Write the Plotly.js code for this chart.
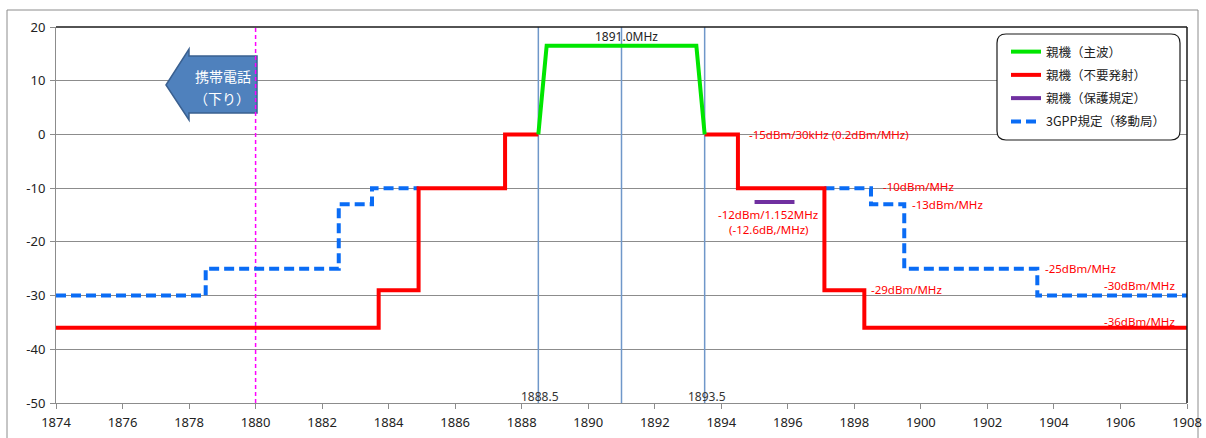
<!DOCTYPE html>
<html>
<head>
<meta charset="utf-8">
<script src="https://cdn.plot.ly/plotly-3.0.1.min.js"></script>
<style>
  html, body { margin: 0; padding: 0; background: #fff; }
  #chart { width: 1206px; height: 438px; }
</style>
</head>
<body>
<div id="chart"></div>
<script>
// ---------- data ----------
const seriesNames = ['親機（主波）', '親機（不要発射）', '親機（保護規定）', '3GPP規定（移動局）'];

// 親機(主波)
const mainX = [1888.5, 1888.75, 1893.25, 1893.5];
const mainY = [0, 16.5, 16.5, 0];

// 親機(不要発射)
const spurX = [1874, 1883.7, 1883.7, 1884.9, 1884.9, 1887.5, 1887.5, 1888.5, null,
               1893.5, 1894.5, 1894.5, 1897.1, 1897.1, 1898.3, 1898.3, 1908];
const spurY = [-36, -36, -29, -29, -10, -10, 0, 0, null,
               0, 0, -10, -10, -29, -29, -36, -36];

// 親機(保護規定)
const protX = [1895.0, 1896.2];
const protY = [-12.6, -12.6];

// 3GPP規定(移動局)
const gppX = [1874, 1878.5, 1878.5, 1882.5, 1882.5, 1883.5, 1883.5, 1884.9, null,
              1897.1, 1898.5, 1898.5, 1899.5, 1899.5, 1903.5, 1903.5, 1908];
const gppY = [-30, -30, -25, -25, -13, -13, -10, -10, null,
              -10, -10, -13, -13, -25, -25, -30, -30];

// reference frequencies
const bandLines = [1888.5, 1891.0, 1893.5];
const downlinkEdge = 1880;

const xTicks = [1874,1876,1878,1880,1882,1884,1886,1888,1890,1892,1894,1896,1898,1900,1902,1904,1906,1908];
const yTicks = [20, 10, 0, -10, -20, -30, -40, -50];
const yRange = [-50, 20];
const xRange = [1874, 1908];

// ---------- layout helpers ----------
const W = 1206, H = 438;
const M = {l: 56, r: 19, t: 27, b: 35};
const PW = W - M.l - M.r, PH = H - M.t - M.b;
const px = v => (v - M.l) / PW;          // pixel x -> paper x
const py = v => (H - M.b - v) / PH;      // pixel y -> paper y
const ax = v => xRange[0] + (v - M.l) / PW * (xRange[1] - xRange[0]);
const ay = v => yRange[1] - (v - M.t) / PH * (yRange[1] - yRange[0]);

// vertical band lines built from the frequency arrays
const vlX = [], vlY = [];
bandLines.forEach(f => { vlX.push(f, f, null); vlY.push(yRange[0], yRange[1], null); });

const traces = [
  {x: vlX, y: vlY, mode: 'lines', line: {color: '#6f97c9', width: 1.5},
   showlegend: false, hoverinfo: 'skip'},
  {x: [downlinkEdge, downlinkEdge], y: yRange, mode: 'lines',
   line: {color: '#ff00ff', width: 1.5, dash: '4px,3px'}, showlegend: false, hoverinfo: 'skip'},
  {x: gppX, y: gppY, name: seriesNames[3], mode: 'lines', legendrank: 4, legendgroup: 'd',
   line: {color: '#0a6cf5', width: 4, dash: '10px,5px'}},
  {x: spurX, y: spurY, name: seriesNames[1], mode: 'lines', legendrank: 2, legendgroup: 'b',
   line: {color: '#ff0000', width: 4}},
  {x: mainX, y: mainY, name: seriesNames[0], mode: 'lines', legendrank: 1, legendgroup: 'a',
   line: {color: '#00e600', width: 4}},
  {x: protX, y: protY, name: seriesNames[2], mode: 'lines', legendrank: 3, legendgroup: 'c',
   line: {color: '#7030a0', width: 4}}
];

const redFont = {family: 'Noto Sans, sans-serif', size: 11.5, color: '#ff0000'};
const ann = (text, x, y, xanchor, font) => ({
  text, x: px(x), y: py(y), xref: 'paper', yref: 'paper', xanchor, yanchor: 'middle',
  showarrow: false, font: font || redFont
});

const annotations = [
  ann('-15dBm/30kHz (0.2dBm/MHz)', 747, 134, 'left'),
  ann('-10dBm/MHz', 881, 187, 'left'),
  ann('-13dBm/MHz', 910, 204, 'left'),
  ann('-12dBm/1.152MHz', 768, 214, 'center'),
  ann('(-12.6dB,/MHz)', 769, 229, 'center'),
  ann('-25dBm/MHz', 1043, 268, 'left'),
  ann('-29dBm/MHz', 869, 289, 'left'),
  ann('-30dBm/MHz', 1177, 285, 'right'),
  ann('-36dBm/MHz', 1177, 321, 'right'),
  ann('1891.0MHz', 626, 37, 'center', {family: 'Noto Sans, sans-serif', size: 12, color: '#222'}),
  ann('1888.5', 540, 396, 'center', {family: 'Noto Sans, sans-serif', size: 12, color: '#333'}),
  ann('1893.5', 707, 396, 'center', {family: 'Noto Sans, sans-serif', size: 12, color: '#333'}),
  ann('携帯電話', 223, 76, 'center', {family: 'Noto Sans CJK JP, sans-serif', size: 14, color: '#ffffff'}),
  ann('（下り）', 222, 98, 'center', {family: 'Noto Sans CJK JP, sans-serif', size: 14, color: '#ffffff'})
];

// rounded legend box path (paper coords)
function roundRect(x0, y0, x1, y1, r) {
  const rx = r / PW, ry = r / PH;
  const X0 = px(x0), X1 = px(x1), Y0 = py(y0), Y1 = py(y1);
  return `M${X0 + rx},${Y0} L${X1 - rx},${Y0} Q${X1},${Y0} ${X1},${Y0 - ry} ` +
         `L${X1},${Y1 + ry} Q${X1},${Y1} ${X1 - rx},${Y1} L${X0 + rx},${Y1} ` +
         `Q${X0},${Y1} ${X0},${Y1 + ry} L${X0},${Y0 - ry} Q${X0},${Y0} ${X0 + rx},${Y0} Z`;
}

// arrow outline (pixels)
const arrowPts = [[166, 85], [189, 49], [189, 56], [257, 56], [257, 113], [189, 113], [189, 120]];

const shapes = [
  {type: 'rect', xref: 'paper', yref: 'paper', x0: px(7), x1: px(1198), y0: py(445), y1: py(10),
   line: {color: '#8c8c8c', width: 1}, fillcolor: 'rgba(0,0,0,0)', layer: 'below'},
  {type: 'line', xref: 'paper', yref: 'paper', x0: 0, x1: 1, y0: 1, y1: 1,
   line: {color: '#1a1a1a', width: 1.5}, layer: 'above'},
  {type: 'line', xref: 'paper', yref: 'paper', x0: 1, x1: 1, y0: 0, y1: 1,
   line: {color: '#1a1a1a', width: 1.5}, layer: 'above'},
  {type: 'path', xref: 'x', yref: 'y', layer: 'between',
   path: 'M' + arrowPts.map(p => `${ax(p[0])},${ay(p[1])}`).join(' L') + ' Z',
   fillcolor: '#4f81bd', line: {color: '#3a6090', width: 1.5}},
  {type: 'path', xref: 'paper', yref: 'paper', path: roundRect(997, 34, 1180, 140, 9),
   fillcolor: '#ffffff', line: {color: '#1a1a1a', width: 1.2}, layer: 'above'}
];

const layout = {
  width: W, height: H,
  margin: M,
  paper_bgcolor: '#ffffff', plot_bgcolor: 'rgba(0,0,0,0)',
  showlegend: true,
  legend: {
    x: px(1006), y: py(37), xanchor: 'left', yanchor: 'top',
    bgcolor: 'rgba(0,0,0,0)', borderwidth: 0,
    font: {family: 'Noto Sans CJK JP, sans-serif', size: 12.5, color: '#222'},
    traceorder: 'grouped', tracegroupgap: 4, itemwidth: 30
  },
  xaxis: {
    range: xRange, tickvals: xTicks, ticktext: xTicks.map(String),
    showgrid: false, zeroline: false, showline: true, linecolor: '#8c8c8c', linewidth: 1,
    ticks: 'outside', ticklen: 5, tickcolor: '#8c8c8c',
    tickfont: {family: 'Noto Sans, sans-serif', size: 13, color: '#222'}, ticklabelstandoff: 2
  },
  yaxis: {
    range: yRange, tickvals: yTicks, ticktext: yTicks.map(String),
    showgrid: true, gridcolor: '#8c8c8c', gridwidth: 1, zeroline: false,
    showline: true, linecolor: '#8c8c8c', linewidth: 1,
    ticks: 'outside', ticklen: 5, tickcolor: '#8c8c8c',
    tickfont: {family: 'Noto Sans, sans-serif', size: 13, color: '#222'}, ticklabelstandoff: 2
  },
  shapes, annotations
};

Plotly.newPlot('chart', traces, layout, {displayModeBar: false, staticPlot: true});
</script>
</body>
</html>
